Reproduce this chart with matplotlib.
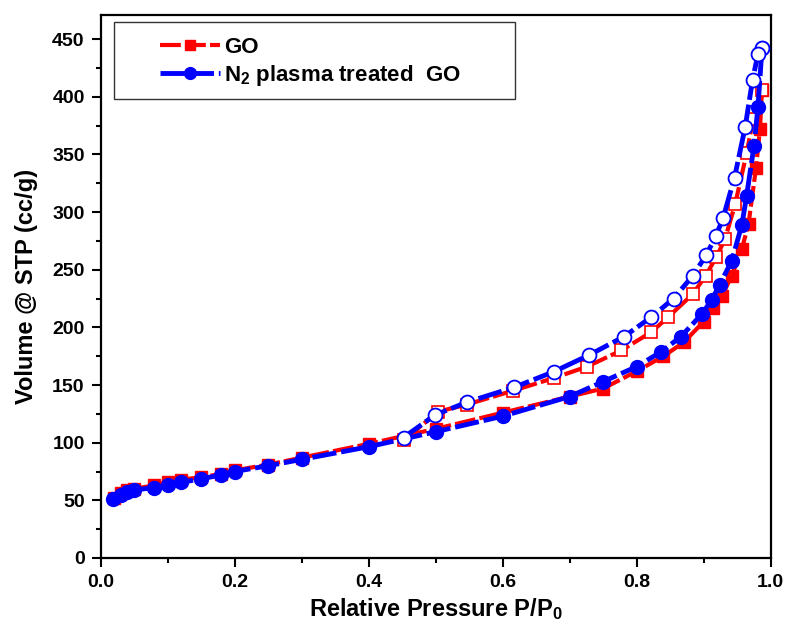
import numpy as np
import matplotlib
matplotlib.use("Agg")
import matplotlib.pyplot as plt
from matplotlib.patches import Rectangle
from matplotlib.ticker import MultipleLocator

plt.rcParams['font.family'] = ['Liberation Sans', 'DejaVu Sans']
plt.rcParams['font.weight'] = 'bold'
plt.rcParams['mathtext.fontset'] = 'custom'
plt.rcParams['mathtext.rm'] = 'Liberation Sans:bold'
plt.rcParams['mathtext.default'] = 'rm'

# GO - adsorption branch (filled squares)
go_ads_p = [0.02, 0.03, 0.04, 0.05, 0.08, 0.10, 0.12, 0.15, 0.18, 0.20, 0.25, 0.30,
            0.40, 0.50, 0.60, 0.70, 0.75, 0.80, 0.84, 0.87, 0.90, 0.914, 0.927,
            0.942, 0.957, 0.967, 0.978, 0.984, 0.987]
go_ads_v = [52, 56, 59, 60, 63, 66, 68, 70, 73, 76, 81, 87,
            99, 112, 126, 140, 147, 162, 175, 187, 205, 217, 227,
            245, 268, 290, 338, 372, 406]
# GO - desorption branch (open squares)
go_des_p = [0.987, 0.974, 0.964, 0.947, 0.932, 0.919, 0.903, 0.884, 0.847, 0.822,
            0.777, 0.726, 0.676, 0.615, 0.546, 0.504, 0.452]
go_des_v = [406, 381, 351, 307, 277, 261, 245, 229, 209, 196,
            180, 166, 156, 145, 133, 127, 102]

# N2 plasma treated GO - adsorption (filled circles)
n2_ads_p = [0.019, 0.03, 0.04, 0.05, 0.08, 0.10, 0.12, 0.15, 0.18, 0.20, 0.25, 0.30,
            0.40, 0.50, 0.60, 0.70, 0.75, 0.80, 0.837, 0.866, 0.898, 0.912, 0.924,
            0.942, 0.957, 0.964, 0.975, 0.981, 0.987]
n2_ads_v = [51, 55, 57, 59, 61, 63, 65.5, 68.7, 72, 75, 80, 85.5,
            96.5, 109.5, 123, 140, 153, 166, 179, 192, 212, 224, 237,
            258, 289, 314, 357, 391, 442]
# N2 plasma treated GO - desorption (open circles)
n2_des_p = [0.987, 0.981, 0.973, 0.962, 0.946, 0.929, 0.918, 0.904, 0.884, 0.855,
            0.822, 0.781, 0.729, 0.676, 0.617, 0.546, 0.499, 0.452]
n2_des_v = [442, 437, 415, 374, 330, 295, 279, 263, 245, 225,
            209, 192, 176, 161.5, 148, 135, 124, 104.5]

red = '#ff0000'
blue = '#0000ff'
dash = (0, (5, 1))

fig = plt.figure(figsize=(7.89, 6.35), dpi=100)
ax = fig.add_axes([0.1276, 0.1213, 0.8492, 0.8551])

ax.plot(go_ads_p, go_ads_v, color=red, lw=3, ls=dash, marker='s', ms=8,
        mfc=red, mec=red, label='GO', zorder=3)
ax.plot(go_des_p, go_des_v, color=red, lw=3, ls=dash, marker='s', ms=9,
        mfc='white', mec=red, mew=1.2, zorder=3)
ax.plot(n2_ads_p, n2_ads_v, color=blue, lw=3.5, ls=dash, marker='o', ms=10,
        mfc=blue, mec=blue, label=r'N$_2$ plasma treated  GO', zorder=4)
ax.plot(n2_des_p, n2_des_v, color=blue, lw=3.5, ls=dash, marker='o', ms=10,
        mfc='white', mec=blue, mew=1.3, zorder=4)

ax.set_xlim(0, 1.0)
ax.set_ylim(0, 471)
ax.xaxis.set_major_locator(MultipleLocator(0.2))
ax.xaxis.set_minor_locator(MultipleLocator(0.1))
ax.yaxis.set_major_locator(MultipleLocator(50))
ax.yaxis.set_minor_locator(MultipleLocator(25))
ax.xaxis.set_major_formatter(plt.FuncFormatter(lambda v, p: f'{v:.1f}'))

for s in ax.spines.values():
    s.set_linewidth(1.6)
ax.tick_params(which='both', direction='out', top=False, right=False,
               width=1.5, labelsize=14)
ax.tick_params(which='major', length=6.5, pad=5)
ax.tick_params(which='minor', length=3.5)
for lab in ax.get_xticklabels() + ax.get_yticklabels():
    lab.set_fontweight('bold')

ax.set_xlabel(r'Relative Pressure P/P$_0$', fontsize=17, fontweight='bold', labelpad=4)
ax.set_ylabel('Volume @ STP (cc/g)', fontsize=17, fontweight='bold', labelpad=10)

# legend box
ax.add_patch(Rectangle((0.02, 0.845), 0.598, 0.142, transform=ax.transAxes,
                       fill=False, lw=1.0, ec='#333333', zorder=5))
ax.legend(loc='upper left', bbox_to_anchor=(0.058, 0.997), frameon=False,
          handlelength=2.7, handletextpad=0.2, labelspacing=0.25,
          markerscale=0.85, prop={'weight': 'bold', 'size': 16})

fig.savefig('out.png', dpi=100)
